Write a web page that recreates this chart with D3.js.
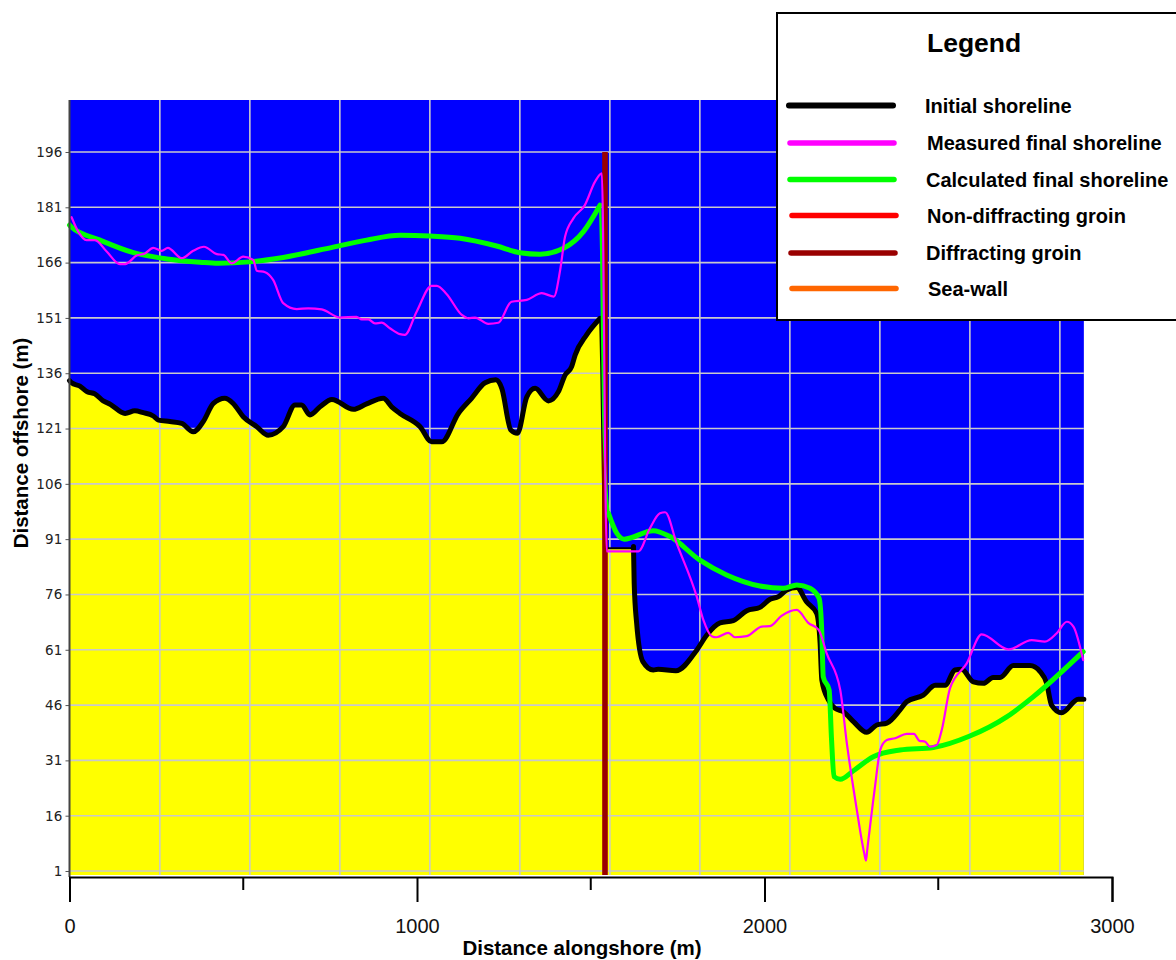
<!DOCTYPE html>
<html><head><meta charset="utf-8">
<script src="https://cdn.jsdelivr.net/npm/d3@7/dist/d3.min.js"></script>
<style>html,body{margin:0;padding:0;background:#fff}svg{display:block}text{font-family:"Liberation Sans",Arial,sans-serif}</style>
</head><body><svg id="c" width="1176" height="960"></svg>
<script>
// [distance alongshore (m), distance offshore (m)]
const initialWest=[[0,134],[6,133.4],[30,132.5],[51,131],[73,130.4],[97,128.5],[117,127.6],[160,125.1],[188,125.8],[212,125.3],[241,124.4],[256,123.3],[289,122.9],[323,122.4],[356,120.1],[385,122.9],[414,127.8],[447,129.2],[471,127.8],[500,124.2],[539,121.5],[572,119.2],[615,121.5],[649,127.4],[668,127.4],[692,124.7],[721,126.9],[755,128.9],[817,126.2],[855,127.7],[903,129.2],[927,126.9],[951,125.1],[1009,121.5],[1042,117.4],[1071,117.4],[1119,125.1],[1157,129.2],[1196,133.4],[1227,134.2],[1244,131.9],[1270,120.6],[1289,119.7],[1316,129.6],[1340,131.9],[1378,128.5],[1407,131],[1426,135.5],[1445,137.8],[1455,140.9],[1488,146.4],[1527,150.9]];
const initialDrop=[[1527,150.9],[1530,138],[1538,88.5]];
const initialShelf=[[1538,88.5],[1622,88.5]];
const initialEast=[[1623,89],[1625,79.1],[1632,68.3],[1650,57.8],[1680,55.5],[1694,55.7],[1745,55.3],[1805,60.9],[1834,65],[1872,68.3],[1910,68.9],[1949,71.6],[1987,72.5],[2016,74.7],[2040,75.4],[2064,77.2],[2093,77.9],[2121,74],[2150,70.9],[2160,62.8],[2165,52.8],[2184,47.4],[2203,45.1],[2227,44.2],[2256,41.5],[2294,38.6],[2323,40.6],[2352,41.1],[2390,44.7],[2409,46.9],[2457,48.7],[2491,51.4],[2520,51.4],[2548,55.5],[2567,55.7],[2601,52.3],[2630,51.9],[2658,53.5],[2678,53.5],[2716,56.7],[2764,56.7],[2793,55.1],[2812,51.9],[2826,46],[2855,43.9],[2903,47.6],[2919,47.6]];
const measuredFinal=[[6,178.3],[25,174.4],[49,172.1],[73,172.1],[107,169],[145,165.6],[160,165.6],[193,167.9],[217,168.5],[241,170],[265,169.2],[283,170],[323,167.2],[356,169.2],[387,170.3],[424,168.3],[443,168.1],[467,165.8],[500,167.6],[529,166.7],[539,163.8],[563,163.4],[586,161.3],[615,155],[654,153.4],[687,153.6],[726,153.3],[778,151.1],[826,151.3],[841,150.6],[860,150.6],[879,149.5],[898,149.7],[922,148.2],[951,146.6],[965,146.4],[999,152.7],[1042,159.7],[1057,159.7],[1085,157.5],[1129,151.8],[1148,150.9],[1167,151.1],[1205,149.4],[1234,149.7],[1272,155.4],[1316,155.9],[1359,157.7],[1394,156.8],[1412,164],[1426,173],[1450,178],[1483,181.6],[1512,187.9],[1532,190.2],[1546,87.7],[1637,87.7],[1670,93.9],[1699,98],[1714,98.3],[1747,89.9],[1805,75.4],[1824,69.1],[1848,64.7],[1862,64.4],[1896,65.6],[1915,64.4],[1949,64.7],[1992,67.3],[2016,67.4],[2049,70.2],[2093,71.8],[2126,68.3],[2156,66.4],[2179,60],[2218,50.1],[2237,35.6],[2265,18],[2287,5.8],[2292,3.8],[2296,7],[2318,23.9],[2333,33.8],[2352,36.5],[2376,37],[2409,38.2],[2430,38.2],[2446,36.3],[2462,36.1],[2476,34.7],[2496,35.2],[2510,39.2],[2534,50.6],[2582,57.3],[2625,65.2],[2702,61.1],[2769,63.6],[2807,63.2],[2841,65.5],[2870,68.6],[2889,67.3],[2917,58.2]];
const calculatedWest=[[0,176.2],[6,175.6],[88,172.1],[184,168.7],[280,167],[376,166.1],[428,165.8],[519,166.2],[615,167.4],[759,170.2],[855,172.1],[951,173.4],[1037,173.2],[1124,172.6],[1229,170.5],[1296,168.7],[1354,168.3],[1422,169.9],[1479,174.4],[1527,181.6]];
const calculatedDrop=[[1527,181.6],[1530,169.4],[1536,124.2],[1551,98]];
const calculatedEast=[[1551,98],[1575,92.6],[1596,91],[1680,93.3],[1728,91.7],[1814,85.3],[1891,81.3],[1987,78.3],[2054,77.7],[2093,78.6],[2131,77.7],[2157,75],[2165,65.5],[2169,53.7],[2186,50.1],[2193,36.5],[2200,26.6],[2218,25.9],[2256,28.2],[2313,32],[2390,33.8],[2486,34.5],[2591,37.6],[2697,42.8],[2774,48.3],[2917,60.5]];
const groinX=[1541];
const groinTop=[196];
const beachEnd=[2919];
const yTicks=[1,16,31,46,61,76,91,106,121,136,151,166,181,196];
const xMajor=[0,1000,2000,3000];
const xMinor=[500,1500,2500];
const gridX=[0,260,519,778,1037,1296,1555,1814,2073,2332,2591,2850];
const legendLabels=["Initial shoreline","Measured final shoreline","Calculated final shoreline","Non-diffracting groin","Diffracting groin","Sea-wall"];
const legendColors=["#000000","#ff00ff","#00ff00","#ff0000","#990000","#ff6600"];

const svg=d3.select("#c");
const x=d3.scaleLinear().domain([0,3000]).range([69.5,1112]);
const y=d3.scaleLinear().domain([1,196]).range([871,152]);
const plotTop=100,plotBottom=875,plotLeft=x(0),plotRight=x(beachEnd[0]);
const line=d3.line().x(d=>x(d[0])).y(d=>y(d[1])).curve(d3.curveMonotoneX);
const initial=[...initialWest,...initialDrop.slice(1),...initialShelf.slice(1),...initialEast];

svg.append("rect").attr("x",plotLeft).attr("y",plotTop).attr("width",plotRight-plotLeft).attr("height",plotBottom-plotTop).attr("fill","#0000ff");
svg.append("path").datum(initial).attr("fill","#ffff00")
  .attr("d",d3.area().x(d=>x(d[0])).y0(plotBottom).y1(d=>y(d[1])).curve(d3.curveMonotoneX));

// grid
const grid=svg.append("g").attr("stroke","#c8c8cc").attr("stroke-width",1.6);
grid.selectAll("line.v").data(gridX.slice(1)).join("line").attr("class","v")
  .attr("x1",d=>x(d)).attr("x2",d=>x(d)).attr("y1",plotTop).attr("y2",plotBottom);
grid.selectAll("line.h").data(yTicks).join("line").attr("class","h")
  .attr("x1",plotLeft).attr("x2",plotRight).attr("y1",d=>y(d)).attr("y2",d=>y(d));

function stroke(data,color,w){
  svg.append("path").datum(data).attr("fill","none").attr("stroke",color).attr("stroke-width",w)
    .attr("stroke-linejoin","round").attr("stroke-linecap","round").attr("d",line);
}
stroke(initialWest,"#000",5);
stroke(initialDrop,"#000",2);
stroke(initialShelf,"#000",2);
stroke(initialEast,"#000",5);
// diffracting groin
svg.append("line").attr("x1",x(groinX[0])).attr("x2",x(groinX[0])).attr("y1",y(groinTop[0])).attr("y2",plotBottom)
  .attr("stroke","#990000").attr("stroke-width",5.6);
stroke(calculatedWest,"#00ff00",5);
stroke(calculatedDrop,"#00ff00",2.4);
stroke(calculatedEast,"#00ff00",5);
stroke(measuredFinal,"#ff00ff",2.2);

// left axis
const ay=svg.append("g").attr("transform",`translate(${plotLeft},0)`)
  .call(d3.axisLeft(y).tickValues(yTicks).tickSize(4).tickPadding(3));
ay.select(".domain").remove();
ay.selectAll(".tick line").attr("stroke","#555");
ay.selectAll("text").attr("fill","#222").style("font-family","'DejaVu Sans'").style("font-size","13.5px").style("letter-spacing","0.2px");
svg.append("line").attr("x1",plotLeft).attr("x2",plotLeft).attr("y1",plotTop).attr("y2",877).attr("stroke","#444").attr("stroke-width",2);

// bottom axis
const yb=877;
const ax=svg.append("g").attr("transform",`translate(0,${yb})`)
  .call(d3.axisBottom(x).tickValues(xMajor).tickSize(25).tickPadding(17).tickFormat(d3.format("d")));
ax.select(".domain").attr("stroke","#000").attr("stroke-width",2);
ax.selectAll(".tick line").attr("stroke","#000").attr("stroke-width",2);
ax.selectAll("text").attr("fill","#111").style("font-family","'Liberation Sans'").style("font-size","20px");
svg.append("g").selectAll("line").data(xMinor).join("line")
  .attr("x1",d=>x(d)).attr("x2",d=>x(d)).attr("y1",yb).attr("y2",yb+13).attr("stroke","#000").attr("stroke-width",2);

// titles
svg.append("text").attr("x",582).attr("y",955).attr("text-anchor","middle").attr("font-weight","bold").attr("font-size",20.5).text("Distance alongshore (m)");
svg.append("text").attr("transform","translate(28,443) rotate(-90)").attr("text-anchor","middle").attr("font-weight","bold").attr("font-size",20.5).text("Distance offshore (m)");

// legend
const lg=svg.append("g");
lg.append("rect").attr("x",777).attr("y",13).attr("width",420).attr("height",307).attr("fill","#fff").attr("stroke","#000").attr("stroke-width",2);
lg.append("text").attr("x",927).attr("y",52).attr("font-weight","bold").attr("font-size",26.5).text("Legend");
const legendY=[105.5,143,179.5,215.5,253,288.5];
const legendLineX=[787,788,788,790,789,790];
const legendTextX=[925,927,926,927,926,928];
legendLabels.forEach((t,i)=>{
  lg.append("line").attr("x1",legendLineX[i]+2).attr("x2",legendLineX[i]+106).attr("y1",legendY[i]).attr("y2",legendY[i])
    .attr("stroke",legendColors[i]).attr("stroke-width",i==0?6:5.5).attr("stroke-linecap","round");
  lg.append("text").attr("x",legendTextX[i]).attr("y",legendY[i]+7).attr("font-weight","bold").attr("font-size",20).text(t);
});
</script></body></html>
